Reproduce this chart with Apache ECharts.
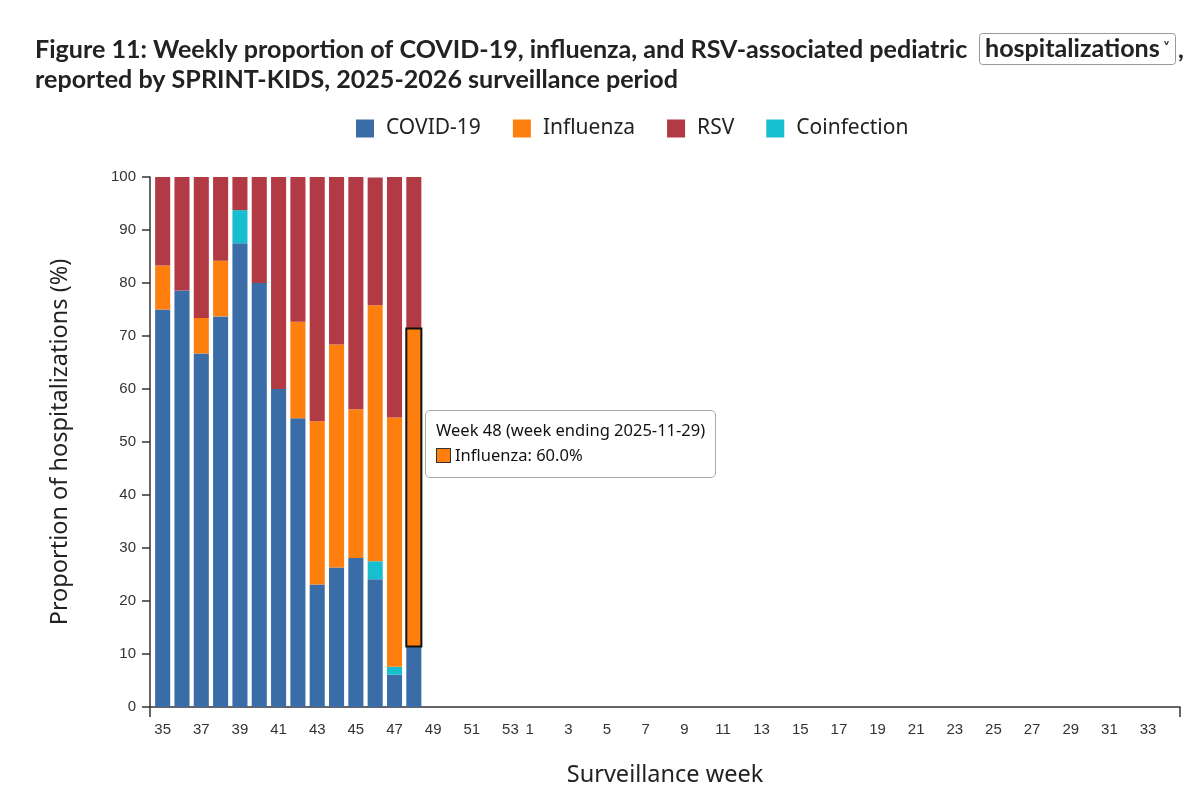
<!DOCTYPE html>
<html>
<head>
<meta charset="utf-8">
<script src="https://cdn.jsdelivr.net/npm/echarts@6/dist/echarts.min.js"></script>
<style>
  html, body { margin: 0; padding: 0; background: #fff; }
  #chart { width: 1200px; height: 798px; }
</style>
</head>
<body>
<div id="chart"></div>
<script>
// surveillance weeks, 2025 wk 35 through 2026 wk 34
const weeks = [35, 36, 37, 38, 39, 40, 41, 42, 43, 44, 45, 46, 47, 48, 49, 50, 51, 52, 53,
  1, 2, 3, 4, 5, 6, 7, 8, 9, 10, 11, 12, 13, 14, 15, 16, 17, 18, 19, 20,
  21, 22, 23, 24, 25, 26, 27, 28, 29, 30, 31, 32, 33, 34]

// proportions (%), weeks 35..48
const covid       = [75.0, 78.6, 66.7, 73.7, 87.5, 80.0, 60.0, 54.5, 23.1, 26.3, 28.1, 24.1, 6.1, 11.4]
const coinfection = [0, 0, 0, 0, 6.25, 0, 0, 0, 0, 0, 0, 3.4, 1.5, 0]
const influenza   = [8.3, 0, 6.7, 10.5, 0, 0, 0, 18.2, 30.8, 42.1, 28.1, 48.3, 47.0, 60.0]
const rsv         = [16.7, 21.4, 26.7, 15.8, 6.25, 20.0, 40.0, 27.3, 46.2, 31.6, 43.8, 24.1, 45.5, 28.6]

const yTicks = { min: 0, max: 100, interval: 10 }

const COLORS = { covid: '#3a6ca8', influenza: '#ff7f0e', rsv: '#b13a45', coinfection: '#17becf' }

const firstWeekEnd = Date.UTC(2025, 7, 30)
const weekEnding = i => new Date(firstWeekEnd + i * 7 * 86400000).toISOString().slice(0, 10)

const AXIS_COLOR = '#333'
const TITLE_FONT = { fontFamily: 'Lato', fontWeight: 'bold', fontSize: 25.1, color: '#222' }

const chart = echarts.init(document.getElementById('chart'), null, { renderer: 'canvas' })

const mkSeries = (name, data, color) => ({
  name,
  type: 'bar',
  stack: 'total',
  barCategoryGap: '22%',
  data,
  itemStyle: { color },
  emphasis: { itemStyle: { color, borderColor: '#111', borderWidth: 2 } },
})

const option = {
  animation: false,
  title: [
    {
      text: 'Figure 11: Weekly proportion of COVID-19, influenza, and RSV-associated pediatric\nreported by SPRINT-KIDS, 2025-2026 surveillance period',
      left: 35,
      top: 35,
      padding: 0,
      textStyle: { ...TITLE_FONT, lineHeight: 30 },
    },
    {
      // the measure picker box
      text: '{h|hospitalizations}{c|˅}',
      left: 979,
      top: 33,
      padding: [3, 6, 3, 6],
      borderColor: '#999',
      borderWidth: 1,
      borderRadius: 3,
      textStyle: {
        ...TITLE_FONT,
        rich: {
          h: { ...TITLE_FONT, lineHeight: 26 },
          c: { fontFamily: 'DejaVu Sans', fontSize: 15, color: '#222', padding: [3, 0, 0, 3], lineHeight: 26 },
        },
      },
    },
    {
      text: ',',
      left: 1178,
      top: 35,
      padding: 0,
      textStyle: { ...TITLE_FONT, lineHeight: 30 },
    },
  ],
  legend: {
    data: ['COVID-19', 'Influenza', 'RSV', 'Coinfection'],
    left: 356,
    top: 118,
    padding: 0,
    icon: 'rect',
    itemWidth: 18,
    itemHeight: 18,
    itemGap: 32,
    textStyle: { fontFamily: 'Noto Sans', fontSize: 21, color: '#222', padding: [0, 0, 0, 7] },
  },
  tooltip: {
    trigger: 'item',
    alwaysShowContent: true,
    transitionDuration: 0,
    position: [425, 410],
    backgroundColor: '#fff',
    borderColor: '#aaa',
    borderWidth: 1,
    padding: [6, 10, 10, 10],
    extraCssText: 'box-shadow:none;border-radius:5px;line-height:25px;',
    textStyle: { fontFamily: 'Noto Sans', fontSize: 16.5, color: '#111' },
    formatter: p => {
      let html = `Week ${weeks[p.dataIndex]} (week ending ${weekEnding(p.dataIndex)})<br/>`
      html += `<span style="display:inline-block;width:15px;height:15px;box-sizing:border-box;background:${p.color};border:1px solid #333;vertical-align:-2px;margin-right:4px"></span>`
      html += `${p.seriesName}: ${p.value.toFixed(1)}%`
      return html
    },
  },
  grid: [
    { left: 153, right: 23, top: 177, bottom: 91 },   // bands, slightly inset
    { left: 150, right: 20, top: 177, bottom: 91 },   // axis frame
  ],
  xAxis: [
    {
      type: 'category',
      gridIndex: 0,
      data: weeks,
      boundaryGap: true,
      axisLine: { show: false },
      axisTick: { show: false },
      axisLabel: {
        interval: (i, v) => Number(v) % 2 === 1,
        color: AXIS_COLOR,
        fontFamily: 'Liberation Sans',
        fontSize: 15,
        margin: 15,
      },
    },
    {
      type: 'value',
      gridIndex: 1,
      position: 'bottom',
      min: 0,
      max: 1,
      interval: 1,
      name: 'Surveillance week',
      nameLocation: 'middle',
      nameGap: 56,
      nameTextStyle: { fontFamily: 'Noto Sans', fontSize: 23.5, color: '#222' },
      axisLine: { show: true, lineStyle: { color: AXIS_COLOR, width: 1.5 } },
      axisLabel: { show: false },
      splitLine: { show: false },
      axisTick: { show: true, length: 10, lineStyle: { color: AXIS_COLOR, width: 1.5 } },
    },
  ],
  yAxis: [
    { type: 'value', gridIndex: 0, ...yTicks, show: false },
    {
      type: 'value',
      gridIndex: 1,
      ...yTicks,
      name: 'Proportion of hospitalizations (%)',
      nameLocation: 'middle',
      nameGap: 78,
      nameTextStyle: { fontFamily: 'Noto Sans', fontSize: 23.5, color: '#222' },
      axisLine: { show: true, lineStyle: { color: AXIS_COLOR, width: 1.5 } },
      axisTick: { show: true, length: 8, lineStyle: { color: AXIS_COLOR, width: 1.5 } },
      splitLine: { show: false },
      axisLabel: { color: AXIS_COLOR, fontFamily: 'Liberation Sans', fontSize: 15, margin: 14 },
    },
  ],
  series: [
    mkSeries('COVID-19', covid, COLORS.covid),
    mkSeries('Coinfection', coinfection, COLORS.coinfection),
    mkSeries('Influenza', influenza, COLORS.influenza),
    mkSeries('RSV', rsv, COLORS.rsv),
  ],
}

chart.setOption(option)
chart.dispatchAction({ type: 'highlight', seriesIndex: 2, dataIndex: 13 })
chart.dispatchAction({ type: 'showTip', seriesIndex: 2, dataIndex: 13 })

window.addEventListener('resize', () => chart.resize())
</script>
</body>
</html>
